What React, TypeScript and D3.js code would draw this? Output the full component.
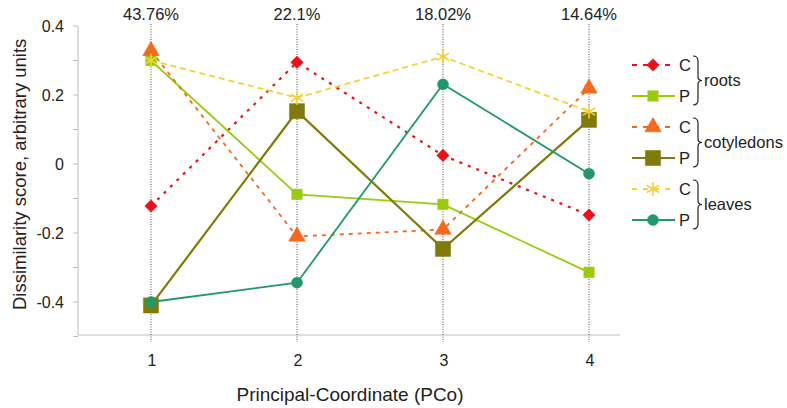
import * as d3 from "d3";
import { useEffect, useRef } from "react";

// --- data ---
const pcoCategories = [1, 2, 3, 4];
const explainedLabels = ["43.76%", "22.1%", "18.02%", "14.64%"];
const yTickLabels = [0.4, 0.2, 0, -0.2, -0.4];

const rootsC = [-0.122, 0.295, 0.025, -0.148];
const rootsP = [0.3, -0.088, -0.117, -0.314];
const cotyledonsC = [0.328, -0.21, -0.19, 0.219];
const cotyledonsP = [-0.41, 0.153, -0.246, 0.128];
const leavesC = [0.3, 0.192, 0.311, 0.152];
const leavesP = [-0.4, -0.344, 0.231, -0.028];

type Series = {
  group: string;
  key: string;
  values: number[];
  color: string;
  dash: string | null;
  symbol: d3.SymbolType;
  size: number;
  width: number;
};

const series: Series[] = [
  { group: "roots", key: "C", values: rootsC, color: "#E8121B", dash: "3 6", symbol: d3.symbolDiamond2, size: 100, width: 2.2 },
  { group: "roots", key: "P", values: rootsP, color: "#99CC11", dash: null, symbol: d3.symbolSquare, size: 110, width: 1.8 },
  { group: "cotyledons", key: "C", values: cotyledonsC, color: "#F26A1F", dash: "4 5", symbol: d3.symbolTriangle, size: 120, width: 1.8 },
  { group: "cotyledons", key: "P", values: cotyledonsP, color: "#7F7A0A", dash: null, symbol: d3.symbolSquare, size: 230, width: 2.2 },
  { group: "leaves", key: "C", values: leavesC, color: "#F7D036", dash: "6 4", symbol: d3.symbolAsterisk, size: 140, width: 1.8 },
  { group: "leaves", key: "P", values: leavesP, color: "#23976A", dash: null, symbol: d3.symbolCircle, size: 95, width: 1.8 },
];

const W = 787;
const H = 408;
const FONT = "'Liberation Sans', Arial, sans-serif";

export default function App() {
  const svgRef = useRef<SVGSVGElement | null>(null);
  useEffect(() => {
    if (!svgRef.current) return;
    drawChart(svgRef.current);
  }, []);
  return (
    <svg
      ref={svgRef}
      width={W}
      height={H}
      style={{ position: "absolute", left: 0, top: 0, background: "#fff" }}
    />
  );
}

function drawChart(svgElement: SVGSVGElement) {
  const svg = d3.select(svgElement);
  svg.selectAll("*").remove();

  const axisLeftX = 78;
  const axisRightX = 620;
  const axisBottomY = 335;

  const x = d3.scaleLinear().domain([1, 4]).range([151, 589]);
  const y = d3.scaleLinear().domain([-0.4, 0.4]).range([302, 26]);

  // --- axes ---
  svg.append("line")
    .attr("x1", axisLeftX).attr("x2", axisLeftX)
    .attr("y1", y(0.4)).attr("y2", axisBottomY)
    .attr("stroke", "#bdbdbd").attr("stroke-width", 1);
  svg.append("line")
    .attr("x1", axisLeftX).attr("x2", axisRightX)
    .attr("y1", axisBottomY).attr("y2", axisBottomY)
    .attr("stroke", "#bdbdbd").attr("stroke-width", 1);

  // minor y ticks every 0.1
  const minor = d3.range(-5, 5).map(i => i / 10);
  svg.append("g")
    .selectAll("line")
    .data(minor)
    .join("line")
    .attr("x1", axisLeftX - 5).attr("x2", axisLeftX)
    .attr("y1", d => y(d)).attr("y2", d => y(d))
    .attr("stroke", "#bdbdbd");

  svg.append("g")
    .selectAll("text")
    .data(yTickLabels)
    .join("text")
    .attr("x", 64)
    .attr("y", d => y(d))
    .attr("dy", "0.36em")
    .attr("text-anchor", "end")
    .attr("font-family", FONT)
    .attr("font-size", 16)
    .attr("fill", "#222")
    .text(d => (d === 0 ? "0" : String(d)));

  // vertical dotted reference lines
  svg.append("g")
    .selectAll("line")
    .data(pcoCategories)
    .join("line")
    .attr("x1", d => x(d)).attr("x2", d => x(d))
    .attr("y1", 24).attr("y2", axisBottomY + 7)
    .attr("stroke", "#555")
    .attr("stroke-width", 1)
    .attr("stroke-dasharray", "1 1.5");

  svg.append("g")
    .selectAll("text")
    .data(pcoCategories)
    .join("text")
    .attr("x", d => x(d) + 1)
    .attr("y", 366)
    .attr("text-anchor", "middle")
    .attr("font-family", FONT)
    .attr("font-size", 16)
    .attr("fill", "#222")
    .text(d => String(d));

  svg.append("g")
    .selectAll("text")
    .data(explainedLabels)
    .join("text")
    .attr("x", (_, i) => x(pcoCategories[i]))
    .attr("y", 20)
    .attr("text-anchor", "middle")
    .attr("font-family", FONT)
    .attr("font-size", 16.5)
    .attr("fill", "#222")
    .text(d => d);

  // axis titles
  svg.append("text")
    .attr("transform", `translate(20, ${y(-0.03)}) rotate(-90)`)
    .attr("text-anchor", "middle")
    .attr("dy", "0.35em")
    .attr("font-family", FONT)
    .attr("font-size", 18.5)
    .attr("fill", "#222")
    .text("Dissimilarity score, arbitrary units");

  svg.append("text")
    .attr("x", 350)
    .attr("y", 401)
    .attr("text-anchor", "middle")
    .attr("font-family", FONT)
    .attr("font-size", 19)
    .attr("fill", "#222")
    .text("Principal-Coordinate (PCo)");

  // --- series lines ---
  const line = d3.line<number>()
    .x((_, i) => x(pcoCategories[i]))
    .y(d => y(d));

  const plot = svg.append("g");
  series.forEach(s => {
    plot.append("path")
      .attr("d", line(s.values))
      .attr("fill", "none")
      .attr("stroke", s.color)
      .attr("stroke-width", s.width)
      .attr("stroke-dasharray", s.dash ?? null);
  });

  // markers on top
  series.forEach(s => {
    const sym = d3.symbol().type(s.symbol).size(s.size);
    plot.append("g")
      .selectAll("path")
      .data(s.values)
      .join("path")
      .attr("transform", (d, i) => `translate(${x(pcoCategories[i])},${y(d)})`)
      .attr("d", sym()!)
      .attr("fill", s.symbol === d3.symbolAsterisk ? "none" : s.color)
      .attr("stroke", s.color)
      .attr("stroke-width", s.symbol === d3.symbolAsterisk ? 1.6 : 0.5);
  });

  // --- legend ---
  const legend = svg.append("g");
  const legendY = [65, 96, 127, 158, 189, 220];
  series.forEach((s, i) => {
    const ly = legendY[i];
    legend.append("line")
      .attr("x1", 632).attr("x2", 675)
      .attr("y1", ly).attr("y2", ly)
      .attr("stroke", s.color)
      .attr("stroke-width", s.width)
      .attr("stroke-dasharray", s.dash ? "5 6" : null);
    const sym = d3.symbol().type(s.symbol).size(s.size);
    legend.append("path")
      .attr("transform", `translate(653,${ly})`)
      .attr("d", sym()!)
      .attr("fill", s.symbol === d3.symbolAsterisk ? "none" : s.color)
      .attr("stroke", s.color)
      .attr("stroke-width", s.symbol === d3.symbolAsterisk ? 1.6 : 0.5);
    legend.append("text")
      .attr("x", 679)
      .attr("y", ly)
      .attr("dy", "0.36em")
      .attr("font-family", FONT)
      .attr("font-size", 16.5)
      .attr("fill", "#222")
      .text(s.key);
  });

  const groups = d3.groups(series.map((s, i) => ({ ...s, ly: legendY[i] })), d => d.group);
  groups.forEach(([name, rows]) => {
    const top = rows[0].ly - 9;
    const bot = rows[rows.length - 1].ly + 9;
    const mid = (top + bot) / 2;
    const bx = 693;
    legend.append("path")
      .attr(
        "d",
        `M${bx},${top} Q${bx + 5},${top} ${bx + 5},${top + 5} L${bx + 5},${mid - 4} Q${bx + 5},${mid} ${bx + 9},${mid} ` +
          `Q${bx + 5},${mid} ${bx + 5},${mid + 4} L${bx + 5},${bot - 5} Q${bx + 5},${bot} ${bx},${bot}`
      )
      .attr("fill", "none")
      .attr("stroke", "#222")
      .attr("stroke-width", 1.2);
    legend.append("text")
      .attr("x", bx + 11)
      .attr("y", mid)
      .attr("dy", "0.36em")
      .attr("font-family", FONT)
      .attr("font-size", 16.5)
      .attr("fill", "#222")
      .text(name);
  });
}
